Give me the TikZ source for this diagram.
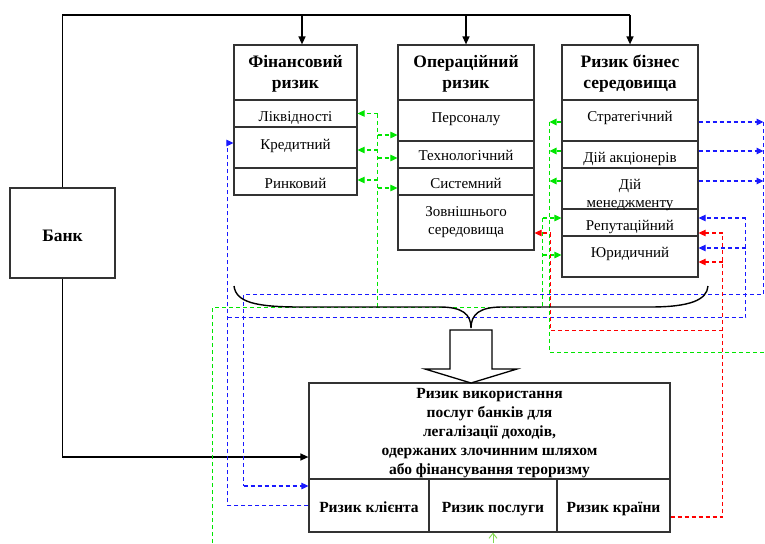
\documentclass[tikz,border=0pt]{standalone}
\usepackage{fontspec}
\setmainfont{Liberation Serif}
\usetikzlibrary{arrows.meta,calc}
\definecolor{gr}{RGB}{0,230,0}
\definecolor{bl}{RGB}{25,25,255}
\definecolor{rd}{RGB}{255,0,0}
\definecolor{lgr}{RGB}{130,215,80}
\begin{document}
\begin{tikzpicture}[x=1pt,y=-1pt,
  box/.style={draw=black!80,line width=1.2pt,inner sep=0pt,fill=white},
  lbl/.style={inner sep=0pt,font=\fontsize{15}{18}\selectfont,anchor=base},
  mlbl/.style={inner sep=0pt,align=center},
  hdr/.style={inner sep=0pt,font=\fontsize{17.5}{21}\selectfont\bfseries,align=center},
  bld/.style={inner sep=0pt,font=\fontsize{15.5}{19}\selectfont\bfseries,align=center},
  blk/.style={line width=1.4pt,black},
  blkarr/.style={blk,-{Triangle[length=8pt,width=7pt]}},
  dsh/.style={line width=1.1pt,dash pattern=on 4pt off 3pt},
  gd/.style={dsh,gr},
  bd/.style={dsh,bl},
  rdd/.style={dsh,rd},
  tip/.style={-{Triangle[length=7pt,width=6.5pt]}}
]
\useasboundingbox (0,0) rectangle (765,543);

% ---- junction coordinates ----
\coordinate (g1top) at (377.5,113.5);
\coordinate (g1bot) at (377.5,307.5);
\coordinate (g2s) at (212.5,543);
\coordinate (g2c) at (212.5,307.5);
\coordinate (g2r) at (542.5,307.5);
\coordinate (g3t) at (549.5,122);
\coordinate (g3b) at (549.5,352.5);
\coordinate (g3e) at (765,352.5);
\coordinate (b1) at (227.5,505.5);
\coordinate (b1j) at (227.5,317.5);
\coordinate (b1r) at (745.5,317.5);
\coordinate (b2t) at (763.5,122);
\coordinate (b2b) at (763.5,294.5);
\coordinate (b2l) at (243.5,294.5);
\coordinate (r1) at (722.5,517);
\coordinate (r2a) at (722.5,330.5);
\coordinate (r2b) at (550.5,330.5);
\coordinate (gbot) at (0,543);

% ---- boxes ----
\node[box,minimum width=105pt,minimum height=90pt] (bank) at (62.5,233) {};
\node[hdr,anchor=base] (t-bank) at (62.5,241) {Банк};

\node[box,minimum width=123pt,minimum height=55pt] (fin-h) at (295.5,72.5) {};
\node[box,minimum width=123pt,minimum height=27pt] (fin-liq) at (295.5,113.5) {};
\node[box,minimum width=123pt,minimum height=41pt] (fin-cred) at (295.5,147.5) {};
\node[box,minimum width=123pt,minimum height=27pt] (fin-mkt) at (295.5,181.5) {};

\node[box,minimum width=136pt,minimum height=55pt] (ops-h) at (466,72.5) {};
\node[box,minimum width=136pt,minimum height=41pt] (ops-pers) at (466,120.5) {};
\node[box,minimum width=136pt,minimum height=27pt] (ops-tech) at (466,154.5) {};
\node[box,minimum width=136pt,minimum height=27pt] (ops-sys) at (466,181.5) {};
\node[box,minimum width=136pt,minimum height=55pt] (ops-ext) at (466,222.5) {};

\node[box,minimum width=136pt,minimum height=55pt] (bus-h) at (630,72.5) {};
\node[box,minimum width=136pt,minimum height=41pt] (bus-str) at (630,120.5) {};
\node[box,minimum width=136pt,minimum height=27pt] (bus-sh) at (630,154.5) {};
\node[box,minimum width=136pt,minimum height=41pt] (bus-mgmt) at (630,188.5) {};
\node[box,minimum width=136pt,minimum height=27pt] (bus-rep) at (630,222.5) {};
\node[box,minimum width=136pt,minimum height=41pt] (bus-jur) at (630,256.5) {};

\node[box,minimum width=361pt,minimum height=96pt] (ml) at (489.5,431) {};
\node[box,minimum width=120pt,minimum height=53pt] (client) at (369,505.5) {};
\node[box,minimum width=128pt,minimum height=53pt] (service) at (493,505.5) {};
\node[box,minimum width=113pt,minimum height=53pt] (country) at (613.5,505.5) {};

% ---- texts ----
\node[hdr] (t-fin) at (295.5,74) {Фінансовий\\ризик};
\node[hdr] (t-ops) at (466,74) {Операційний\\ризик};
\node[hdr] (t-bus) at (630,74) {Ризик бізнес\\середовища};
\node[lbl] (t-liq) at (295.5,121) {Ліквідності};
\node[lbl] (t-cred) at (295.5,149) {Кредитний};
\node[lbl] (t-mkt) at (295.5,188) {Ринковий};
\node[lbl] (t-pers) at (466,122) {Персоналу};
\node[lbl] (t-tech) at (466,160.5) {Технологічний};
\node[lbl] (t-sys) at (466,188.5) {Системний};
\node[mlbl,font=\fontsize{15}{17.5}\selectfont] (t-ext) at (466,222) {Зовнішнього\\середовища};
\node[lbl] (t-str) at (630,121.5) {Стратегічний};
\node[lbl] (t-sh) at (630,162) {Дій акціонерів};
\node[mlbl,font=\fontsize{15}{18.5}\selectfont] (t-mgmt) at (630,195) {Дій\\менеджменту};
\node[lbl] (t-rep) at (630,230) {Репутаційний};
\node[lbl] (t-jur) at (630,257) {Юридичний};
\node[bld] (t-ml) at (489.5,433) {Ризик використання\\послуг банків для\\легалізації доходів,\\одержаних злочинним шляхом\\або фінансування тероризму};
\node[bld,anchor=base] (t-client) at (369,512) {Ризик клієнта};
\node[bld,anchor=base] (t-service) at (493,512) {Ризик послуги};
\node[bld,anchor=base] (t-country) at (613.5,512) {Ризик країни};

% ---- black connectors ----
\coordinate (tl) at (62.5,15);
\coordinate (tr) at (630,15);
\coordinate (fin-in) at ([xshift=6.5pt]fin-h.north);
\coordinate (ml-in) at ([yshift=-26pt]ml.west);
\draw[blk] (bank.north) -- (tl) -- (tr);
\draw[blkarr] (fin-in |- tl) -- (fin-in);
\draw[blkarr] (ops-h.north |- tl) -- (ops-h.north);
\draw[blkarr] (tr) -- (bus-h.north);
\draw[blkarr] (bank.south) |- (ml-in);

% ---- attachment points ----
\coordinate (a-liq) at (fin-liq.east);
\coordinate (a-cred) at ([yshift=-2.5pt]fin-cred.east);
\coordinate (a-mkt) at ([yshift=1.5pt]fin-mkt.east);
\coordinate (a-pers) at ([yshift=-14.5pt]ops-pers.west);
\coordinate (a-tech) at ([yshift=-3.5pt]ops-tech.west);
\coordinate (a-sys) at ([yshift=-6.5pt]ops-sys.west);
\coordinate (a-repg) at ([yshift=4.5pt]bus-rep.west);
\coordinate (a-jurg) at ([yshift=1.5pt]bus-jur.west);
\coordinate (a-strg) at ([yshift=-1.5pt]bus-str.west);
\coordinate (a-shg) at ([yshift=3.5pt]bus-sh.west);
\coordinate (a-mgg) at ([yshift=7.5pt]bus-mgmt.west);
\coordinate (a-credb) at ([yshift=4.5pt]fin-cred.west);
\coordinate (a-repb) at ([yshift=4.5pt]bus-rep.east);
\coordinate (a-jurb) at ([yshift=8.5pt]bus-jur.east);
\coordinate (a-strb) at ([yshift=-1.5pt]bus-str.east);
\coordinate (a-shb) at ([yshift=3.5pt]bus-sh.east);
\coordinate (a-mgb) at ([yshift=7.5pt]bus-mgmt.east);
\coordinate (a-clin) at ([yshift=19.5pt]client.west);
\coordinate (a-cty) at ([yshift=-11.5pt]country.east);
\coordinate (a-repr) at ([yshift=-10.5pt]bus-rep.east);
\coordinate (a-jurr) at ([yshift=-5.5pt]bus-jur.east);
\coordinate (a-ext) at ([yshift=-10.5pt]ops-ext.east);

% green
\draw[gd] (g1top) -- (g1bot);
\draw[gd,tip] (g1top) -- (a-liq);
\draw[gd,tip] (a-cred -| g1top) -- (a-cred);
\draw[gd,tip] (a-mkt -| g1top) -- (a-mkt);
\draw[gd,tip] (a-pers -| g1top) -- (a-pers);
\draw[gd,tip] (a-tech -| g1top) -- (a-tech);
\draw[gd,tip] (a-sys -| g1top) -- (a-sys);
\draw[gd] (g2s) -- (g2c) -- (g2r) -- (g2r |- a-repg);
\draw[gd,tip] (g2r |- a-repg) -- (a-repg);
\draw[gd,tip] (g2r |- a-jurg) -- (a-jurg);
\draw[gd] (g3t) -- (g3b) -- (g3e);
\draw[gd,tip] (a-strg) -- (a-strg -| g3t);
\draw[gd,tip] (a-shg) -- (a-shg -| g3t);
\draw[gd,tip] (a-mgg) -- (a-mgg -| g3t);
\draw[lgr,line width=0.9pt,-{Straight Barb[length=5pt,width=8pt]}] (service.south |- gbot) -- (service.south);

% blue
\draw[bd,tip] (client.west) -- (b1) -- (b1 |- a-credb) -- (a-credb);
\draw[bd] (b1j) -- (b1r) -- (b1r |- a-repb);
\draw[bd,tip] (b1r |- a-repb) -- (a-repb);
\draw[bd,tip] (b1r |- a-jurb) -- (a-jurb);
\draw[bd] (b2t) -- (b2b) -- (b2l) -- (b2l |- a-clin);
\draw[bd,tip] (b2l |- a-clin) -- (a-clin);
\draw[bd,tip] (a-strb) -- (a-strb -| b2t);
\draw[bd,tip] (a-shb) -- (a-shb -| b2t);
\draw[bd,tip] (a-mgb) -- (a-mgb -| b2t);

% red
\draw[rdd] (a-cty) -- (r1) -- (r1 |- a-repr);
\draw[rdd,tip] (r1 |- a-repr) -- (a-repr);
\draw[rdd,tip] (r1 |- a-jurr) -- (a-jurr);
\draw[rdd,tip] (r2a) -- (r2b) -- (r2b |- a-ext) -- (a-ext);

% ---- bracket and hollow arrow ----
\draw[blk] (234,286) .. controls (236,302) and (255,307) .. (300,307) -- (440,307)
  .. controls (462,307) and (471,314) .. (471,328)
  .. controls (471,314) and (480,307) .. (502,307) -- (650,307)
  .. controls (690,307) and (707,300) .. (708,286);
\draw[blk,line width=1.3pt,fill=white] (450,330) -- (492,330) -- (492,369) -- (517,369) -- (471,383) -- (425,369) -- (450,369) -- cycle;
\end{tikzpicture}
\end{document}
